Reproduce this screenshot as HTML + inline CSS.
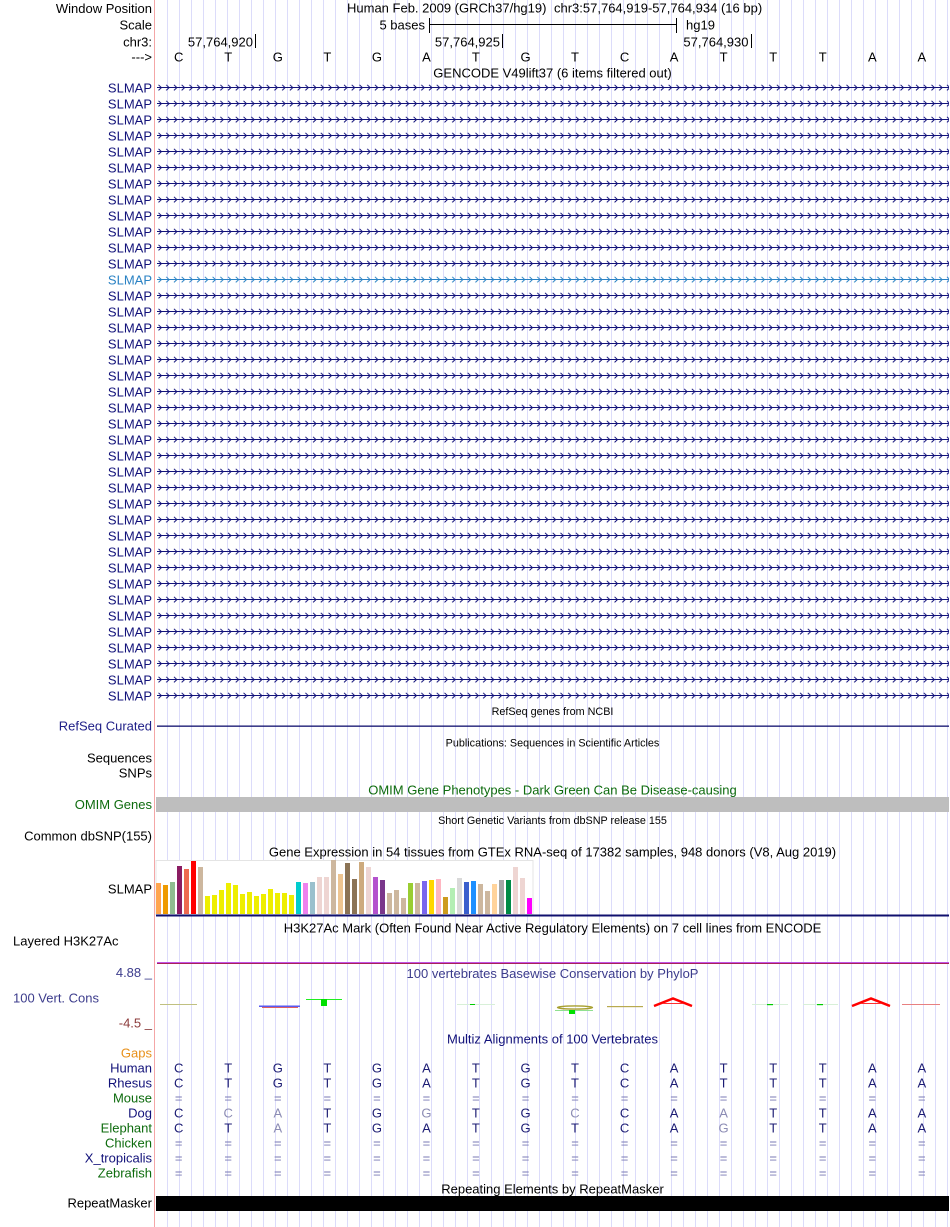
<!DOCTYPE html>
<html>
<head>
<meta charset="utf-8">
<style>
  html,body{margin:0;padding:0;background:#fff;}
  svg{display:block;}
  text{font-family:"Liberation Sans",Arial,sans-serif;font-size:13px;}
  .s{font-size:10.8px;}
  .r{text-anchor:end;}
  .m{text-anchor:middle;}
  .nv{fill:#12127a;}
  .gr{fill:#0d6b0d;}
  .cv{fill:#3c3c8c;}
  .mz{fill:#1c1c74;}
  .mm{fill:#8c8cb4;}
  .eq{fill:#7a7ab4;}
</style>
</head>
<body>
<svg width="950" height="1227" viewBox="0 0 950 1227" xmlns="http://www.w3.org/2000/svg">
  <defs>
    <pattern id="chN" x="158" y="0" width="7.73" height="16" patternUnits="userSpaceOnUse">
      <path d="M0.5,4.8 L3.4,7.6 L0.5,10.4" fill="none" stroke="#12127a" stroke-width="1"/>
    </pattern>
    <pattern id="chB" x="158" y="0" width="7.73" height="16" patternUnits="userSpaceOnUse">
      <path d="M0.5,4.8 L3.4,7.6 L0.5,10.4" fill="none" stroke="#2a82c4" stroke-width="1"/>
    </pattern>
    <pattern id="grid" x="167" y="0" width="12" height="10" patternUnits="userSpaceOnUse">
      <rect x="0" y="0" width="1" height="10" fill="#dcdcfa"/>
    </pattern>
  </defs>

  <rect x="0" y="0" width="950" height="1227" fill="#fff"/>
  <!-- guidelines -->
  <rect x="167" y="0" width="783" height="1227" fill="url(#grid)"/>
  <!-- pink divider -->
  <rect x="154" y="0" width="1" height="1227" fill="#f4a6a6"/>

  <!-- Header -->
  <text x="152" y="13" class="r">Window Position</text>
  <text x="347" y="12.6">Human Feb. 2009 (GRCh37/hg19)</text>
  <text x="554" y="12.6">chr3:57,764,919-57,764,934 (16 bp)</text>

  <text x="152" y="29.7" class="r">Scale</text>
  <text x="425" y="29.7" class="r">5 bases</text>
  <rect x="429" y="18" width="1" height="15" fill="#000"/>
  <rect x="429" y="24" width="248" height="1" fill="#000"/>
  <rect x="676" y="18" width="1" height="15" fill="#000"/>
  <text x="686" y="29.7">hg19</text>

  <text x="152" y="46.6" class="r">chr3:</text>
  <text x="253" y="46.6" class="r">57,764,920</text>
  <rect x="255" y="34" width="1" height="14" fill="#000"/>
  <text x="500" y="46.6" class="r">57,764,925</text>
  <rect x="502" y="34" width="1" height="14" fill="#000"/>
  <text x="748.5" y="46.6" class="r">57,764,930</text>
  <rect x="751" y="34" width="1" height="14" fill="#000"/>

  <text x="152" y="61.6" class="r">---&gt;</text>
  <g class="m">
    <text x="178.7" y="61.6" class="m">C</text>
    <text x="228.2" y="61.6" class="m">T</text>
    <text x="277.8" y="61.6" class="m">G</text>
    <text x="327.3" y="61.6" class="m">T</text>
    <text x="376.9" y="61.6" class="m">G</text>
    <text x="426.4" y="61.6" class="m">A</text>
    <text x="475.9" y="61.6" class="m">T</text>
    <text x="525.5" y="61.6" class="m">G</text>
    <text x="575.0" y="61.6" class="m">T</text>
    <text x="624.6" y="61.6" class="m">C</text>
    <text x="674.1" y="61.6" class="m">A</text>
    <text x="723.6" y="61.6" class="m">T</text>
    <text x="773.2" y="61.6" class="m">T</text>
    <text x="822.7" y="61.6" class="m">T</text>
    <text x="872.3" y="61.6" class="m">A</text>
    <text x="921.8" y="61.6" class="m">A</text>
  </g>

  <text x="552.5" y="77.6" class="m">GENCODE V49lift37 (6 items filtered out)</text>

  <!-- SLMAP arrow lines -->
  <rect x="157" y="79.5" width="792" height="192" fill="url(#chN)"/>
  <rect x="157" y="271.5" width="792" height="16" fill="url(#chB)"/>
  <rect x="157" y="287.5" width="792" height="416" fill="url(#chN)"/>
  <g fill="#12127a">
    <rect x="157" y="87" width="792" height="1"/>
    <rect x="157" y="103" width="792" height="1"/>
    <rect x="157" y="119" width="792" height="1"/>
    <rect x="157" y="135" width="792" height="1"/>
    <rect x="157" y="151" width="792" height="1"/>
    <rect x="157" y="167" width="792" height="1"/>
    <rect x="157" y="183" width="792" height="1"/>
    <rect x="157" y="199" width="792" height="1"/>
    <rect x="157" y="215" width="792" height="1"/>
    <rect x="157" y="231" width="792" height="1"/>
    <rect x="157" y="247" width="792" height="1"/>
    <rect x="157" y="263" width="792" height="1"/>
    <rect x="157" y="279" width="792" height="1" fill="#2a82c4"/>
    <rect x="157" y="295" width="792" height="1"/>
    <rect x="157" y="311" width="792" height="1"/>
    <rect x="157" y="327" width="792" height="1"/>
    <rect x="157" y="343" width="792" height="1"/>
    <rect x="157" y="359" width="792" height="1"/>
    <rect x="157" y="375" width="792" height="1"/>
    <rect x="157" y="391" width="792" height="1"/>
    <rect x="157" y="407" width="792" height="1"/>
    <rect x="157" y="423" width="792" height="1"/>
    <rect x="157" y="439" width="792" height="1"/>
    <rect x="157" y="455" width="792" height="1"/>
    <rect x="157" y="471" width="792" height="1"/>
    <rect x="157" y="487" width="792" height="1"/>
    <rect x="157" y="503" width="792" height="1"/>
    <rect x="157" y="519" width="792" height="1"/>
    <rect x="157" y="535" width="792" height="1"/>
    <rect x="157" y="551" width="792" height="1"/>
    <rect x="157" y="567" width="792" height="1"/>
    <rect x="157" y="583" width="792" height="1"/>
    <rect x="157" y="599" width="792" height="1"/>
    <rect x="157" y="615" width="792" height="1"/>
    <rect x="157" y="631" width="792" height="1"/>
    <rect x="157" y="647" width="792" height="1"/>
    <rect x="157" y="663" width="792" height="1"/>
    <rect x="157" y="679" width="792" height="1"/>
    <rect x="157" y="695" width="792" height="1"/>
  </g>
  <g class="nv">
    <text x="152" y="92.3" class="r">SLMAP</text>
    <text x="152" y="108.3" class="r">SLMAP</text>
    <text x="152" y="124.3" class="r">SLMAP</text>
    <text x="152" y="140.3" class="r">SLMAP</text>
    <text x="152" y="156.3" class="r">SLMAP</text>
    <text x="152" y="172.3" class="r">SLMAP</text>
    <text x="152" y="188.3" class="r">SLMAP</text>
    <text x="152" y="204.3" class="r">SLMAP</text>
    <text x="152" y="220.3" class="r">SLMAP</text>
    <text x="152" y="236.3" class="r">SLMAP</text>
    <text x="152" y="252.3" class="r">SLMAP</text>
    <text x="152" y="268.3" class="r">SLMAP</text>
    <text x="152" y="284.3" class="r" style="fill:#2a82c4">SLMAP</text>
    <text x="152" y="300.3" class="r">SLMAP</text>
    <text x="152" y="316.3" class="r">SLMAP</text>
    <text x="152" y="332.3" class="r">SLMAP</text>
    <text x="152" y="348.3" class="r">SLMAP</text>
    <text x="152" y="364.3" class="r">SLMAP</text>
    <text x="152" y="380.3" class="r">SLMAP</text>
    <text x="152" y="396.3" class="r">SLMAP</text>
    <text x="152" y="412.3" class="r">SLMAP</text>
    <text x="152" y="428.3" class="r">SLMAP</text>
    <text x="152" y="444.3" class="r">SLMAP</text>
    <text x="152" y="460.3" class="r">SLMAP</text>
    <text x="152" y="476.3" class="r">SLMAP</text>
    <text x="152" y="492.3" class="r">SLMAP</text>
    <text x="152" y="508.3" class="r">SLMAP</text>
    <text x="152" y="524.3" class="r">SLMAP</text>
    <text x="152" y="540.3" class="r">SLMAP</text>
    <text x="152" y="556.3" class="r">SLMAP</text>
    <text x="152" y="572.3" class="r">SLMAP</text>
    <text x="152" y="588.3" class="r">SLMAP</text>
    <text x="152" y="604.3" class="r">SLMAP</text>
    <text x="152" y="620.3" class="r">SLMAP</text>
    <text x="152" y="636.3" class="r">SLMAP</text>
    <text x="152" y="652.3" class="r">SLMAP</text>
    <text x="152" y="668.3" class="r">SLMAP</text>
    <text x="152" y="684.3" class="r">SLMAP</text>
    <text x="152" y="700.3" class="r">SLMAP</text>
  </g>

  <!-- RefSeq -->
  <text x="552.5" y="714.9" class="m s">RefSeq genes from NCBI</text>
  <text x="152" y="730.6" class="r" style="fill:#202088">RefSeq Curated</text>
  <rect x="157" y="725.5" width="792" height="1.3" fill="#10106e"/>

  <!-- Publications -->
  <text x="552.5" y="746.4" class="m s">Publications: Sequences in Scientific Articles</text>
  <text x="152" y="762.3" class="r">Sequences</text>
  <text x="152" y="777.6" class="r">SNPs</text>

  <!-- OMIM -->
  <text x="552.5" y="794.6" class="m gr">OMIM Gene Phenotypes - Dark Green Can Be Disease-causing</text>
  <text x="152" y="809.1" class="r gr">OMIM Genes</text>
  <rect x="156" y="797" width="793" height="15" fill="#bebebe"/>

  <!-- dbSNP -->
  <text x="552.5" y="823.9" class="m s">Short Genetic Variants from dbSNP release 155</text>
  <text x="152" y="840.6" class="r">Common dbSNP(155)</text>

  <!-- GTEx -->
  <text x="552.5" y="856.6" class="m">Gene Expression in 54 tissues from GTEx RNA-seq of 17382 samples, 948 donors (V8, Aug 2019)</text>
  <rect x="156" y="860.5" width="377" height="54" fill="#fff" stroke="#e4e4e4" stroke-width="1"/>
  <text x="152" y="893.6" class="r">SLMAP</text>
  <g>
    <rect x="156" y="883" width="5" height="31" fill="#FFA54F"/>
    <rect x="163" y="885" width="5" height="29" fill="#EE9A00"/>
    <rect x="170" y="882" width="5" height="32" fill="#8FBC8F"/>
    <rect x="177" y="866" width="5" height="48" fill="#8B1C62"/>
    <rect x="184" y="869" width="5" height="45" fill="#EE6A50"/>
    <rect x="191" y="861" width="5" height="53" fill="#FF0000"/>
    <rect x="198" y="867" width="5" height="47" fill="#CDB79E"/>
    <rect x="205" y="896" width="5" height="18" fill="#EEEE00"/>
    <rect x="212" y="895" width="5" height="19" fill="#EEEE00"/>
    <rect x="219" y="890" width="5" height="24" fill="#EEEE00"/>
    <rect x="226" y="883" width="5" height="31" fill="#EEEE00"/>
    <rect x="233" y="885" width="5" height="29" fill="#EEEE00"/>
    <rect x="240" y="894" width="5" height="20" fill="#EEEE00"/>
    <rect x="247" y="892" width="5" height="22" fill="#EEEE00"/>
    <rect x="254" y="896" width="5" height="18" fill="#EEEE00"/>
    <rect x="261" y="894" width="5" height="20" fill="#EEEE00"/>
    <rect x="268" y="889" width="5" height="25" fill="#EEEE00"/>
    <rect x="275" y="893" width="5" height="21" fill="#EEEE00"/>
    <rect x="282" y="893" width="5" height="21" fill="#EEEE00"/>
    <rect x="289" y="895" width="5" height="19" fill="#EEEE00"/>
    <rect x="296" y="882" width="5" height="32" fill="#00CDCD"/>
    <rect x="303" y="883" width="5" height="31" fill="#EE82EE"/>
    <rect x="310" y="882" width="5" height="32" fill="#9AC0CD"/>
    <rect x="317" y="877" width="5" height="37" fill="#EED5D2"/>
    <rect x="324" y="877" width="5" height="37" fill="#EED5D2"/>
    <rect x="331" y="860" width="5" height="54" fill="#CDB79E"/>
    <rect x="338" y="874" width="5" height="40" fill="#EEC591"/>
    <rect x="345" y="863" width="5" height="51" fill="#8B7355"/>
    <rect x="352" y="879" width="5" height="35" fill="#8B7355"/>
    <rect x="359" y="862" width="5" height="52" fill="#CDAA7D"/>
    <rect x="366" y="867" width="5" height="47" fill="#EED5D2"/>
    <rect x="373" y="877" width="5" height="37" fill="#B452CD"/>
    <rect x="380" y="880" width="5" height="34" fill="#7A378B"/>
    <rect x="387" y="893" width="5" height="21" fill="#CDB79E"/>
    <rect x="394" y="890" width="5" height="24" fill="#CDB79E"/>
    <rect x="401" y="898" width="5" height="16" fill="#CDB79E"/>
    <rect x="408" y="883" width="5" height="31" fill="#9ACD32"/>
    <rect x="415" y="883" width="5" height="31" fill="#CDB79E"/>
    <rect x="422" y="881" width="5" height="33" fill="#7A67EE"/>
    <rect x="429" y="880" width="5" height="34" fill="#FFD700"/>
    <rect x="436" y="879" width="5" height="35" fill="#FFB6C1"/>
    <rect x="443" y="897" width="5" height="17" fill="#CD9B1D"/>
    <rect x="450" y="888" width="5" height="26" fill="#B4EEB4"/>
    <rect x="457" y="878" width="5" height="36" fill="#D9D9D9"/>
    <rect x="464" y="882" width="5" height="32" fill="#3A5FCD"/>
    <rect x="471" y="881" width="5" height="33" fill="#1E90FF"/>
    <rect x="478" y="884" width="5" height="30" fill="#CDB79E"/>
    <rect x="485" y="891" width="5" height="23" fill="#CDB79E"/>
    <rect x="492" y="884" width="5" height="30" fill="#FFD39B"/>
    <rect x="499" y="880" width="5" height="34" fill="#A6A6A6"/>
    <rect x="506" y="880" width="5" height="34" fill="#008B45"/>
    <rect x="513" y="867" width="5" height="47" fill="#EED5D2"/>
    <rect x="520" y="878" width="5" height="36" fill="#EED5D2"/>
    <rect x="527" y="898" width="5" height="16" fill="#FF00FF"/>
  </g>
  <rect x="156" y="914.5" width="793" height="2" fill="#10106e"/>

  <!-- H3K27Ac -->
  <text x="552.5" y="932.3" class="m">H3K27Ac Mark (Often Found Near Active Regulatory Elements) on 7 cell lines from ENCODE</text>
  <text x="13" y="945.6">Layered H3K27Ac</text>
  <rect x="157" y="962" width="792" height="1" fill="#c055e6"/>
  <rect x="157" y="963" width="792" height="1" fill="#a8205a"/>

  <!-- Conservation -->
  <text x="152" y="977" class="r cv">4.88 _</text>
  <text x="552.5" y="978.1" class="m cv">100 vertebrates Basewise Conservation by PhyloP</text>
  <text x="13" y="1002.3" class="cv">100 Vert. Cons</text>
  <text x="152" y="1027.6" class="r" style="fill:#8b3a3a">-4.5 _</text>

  <g>
    <rect x="160" y="1004" width="37" height="1" fill="#c0c080"/>
    <rect x="259" y="1005.5" width="41" height="1.5" fill="#5a5af0"/>
    <rect x="262" y="1007" width="36" height="1" fill="#e06060"/>
    <rect x="306" y="999" width="36" height="1" fill="#20ee20"/>
    <rect x="321" y="999" width="6" height="7" fill="#00e000"/>
    <rect x="457" y="1004" width="38" height="1" fill="#d8f0d8"/>
    <rect x="470" y="1004" width="5" height="1" fill="#00cc00"/>
    <ellipse cx="575" cy="1007.5" rx="17.5" ry="1.6" fill="none" stroke="#a8a030" stroke-width="1.4"/>
    <rect x="555" y="1010" width="38" height="1" fill="#90e090"/>
    <rect x="569" y="1010" width="6" height="4" fill="#00e000"/>
    <rect x="607" y="1006" width="36" height="1.2" fill="#b8aa50"/>
    <polyline points="654,1006 673,998.5 692,1006" fill="none" stroke="#ff0000" stroke-width="2.5"/>
    <rect x="663" y="1003" width="20" height="1" fill="#ff3030"/>
    <rect x="752" y="1004" width="36" height="1" fill="#d8f0d8"/>
    <rect x="767" y="1004" width="6" height="1.2" fill="#00cc00"/>
    <rect x="803" y="1004" width="35" height="1" fill="#d8f0d8"/>
    <rect x="817" y="1004" width="6" height="1.2" fill="#00cc00"/>
    <polyline points="852,1006 871,998.5 890,1006" fill="none" stroke="#ff0000" stroke-width="2.5"/>
    <rect x="861" y="1003" width="20" height="1" fill="#ff3030"/>
    <rect x="902" y="1004" width="38" height="1" fill="#e88080"/>
  </g>

  <!-- Multiz -->
  <text x="552.5" y="1043.6" class="m nv">Multiz Alignments of 100 Vertebrates</text>
  <text x="152" y="1057.6" class="r" style="fill:#e8901a">Gaps</text>
  <text x="152" y="1072.6" class="r nv">Human</text>
  <text x="152" y="1087.6" class="r nv">Rhesus</text>
  <text x="152" y="1102.6" class="r gr">Mouse</text>
  <text x="152" y="1117.6" class="r nv">Dog</text>
  <text x="152" y="1132.6" class="r gr">Elephant</text>
  <text x="152" y="1147.6" class="r gr">Chicken</text>
  <text x="152" y="1162.6" class="r nv">X_tropicalis</text>
  <text x="152" y="1177.6" class="r gr">Zebrafish</text>

  <!-- Human -->
  <g class="mz">
    <text x="178.7" y="1072.6" class="m">C</text><text x="228.2" y="1072.6" class="m">T</text><text x="277.8" y="1072.6" class="m">G</text><text x="327.3" y="1072.6" class="m">T</text><text x="376.9" y="1072.6" class="m">G</text><text x="426.4" y="1072.6" class="m">A</text><text x="475.9" y="1072.6" class="m">T</text><text x="525.5" y="1072.6" class="m">G</text><text x="575.0" y="1072.6" class="m">T</text><text x="624.6" y="1072.6" class="m">C</text><text x="674.1" y="1072.6" class="m">A</text><text x="723.6" y="1072.6" class="m">T</text><text x="773.2" y="1072.6" class="m">T</text><text x="822.7" y="1072.6" class="m">T</text><text x="872.3" y="1072.6" class="m">A</text><text x="921.8" y="1072.6" class="m">A</text>
  </g>
  <!-- Rhesus -->
  <g class="mz">
    <text x="178.7" y="1087.6" class="m">C</text><text x="228.2" y="1087.6" class="m">T</text><text x="277.8" y="1087.6" class="m">G</text><text x="327.3" y="1087.6" class="m">T</text><text x="376.9" y="1087.6" class="m">G</text><text x="426.4" y="1087.6" class="m">A</text><text x="475.9" y="1087.6" class="m">T</text><text x="525.5" y="1087.6" class="m">G</text><text x="575.0" y="1087.6" class="m">T</text><text x="624.6" y="1087.6" class="m">C</text><text x="674.1" y="1087.6" class="m">A</text><text x="723.6" y="1087.6" class="m">T</text><text x="773.2" y="1087.6" class="m">T</text><text x="822.7" y="1087.6" class="m">T</text><text x="872.3" y="1087.6" class="m">A</text><text x="921.8" y="1087.6" class="m">A</text>
  </g>
  <!-- Mouse = -->
  <g class="eq">
    <text x="178.7" y="1102.6" class="m">=</text><text x="228.2" y="1102.6" class="m">=</text><text x="277.8" y="1102.6" class="m">=</text><text x="327.3" y="1102.6" class="m">=</text><text x="376.9" y="1102.6" class="m">=</text><text x="426.4" y="1102.6" class="m">=</text><text x="475.9" y="1102.6" class="m">=</text><text x="525.5" y="1102.6" class="m">=</text><text x="575.0" y="1102.6" class="m">=</text><text x="624.6" y="1102.6" class="m">=</text><text x="674.1" y="1102.6" class="m">=</text><text x="723.6" y="1102.6" class="m">=</text><text x="773.2" y="1102.6" class="m">=</text><text x="822.7" y="1102.6" class="m">=</text><text x="872.3" y="1102.6" class="m">=</text><text x="921.8" y="1102.6" class="m">=</text>
  </g>
  <!-- Dog -->
  <g class="mz">
    <text x="178.7" y="1117.6" class="m">C</text><text x="228.2" y="1117.6" class="m mm">C</text><text x="277.8" y="1117.6" class="m mm">A</text><text x="327.3" y="1117.6" class="m">T</text><text x="376.9" y="1117.6" class="m">G</text><text x="426.4" y="1117.6" class="m mm">G</text><text x="475.9" y="1117.6" class="m">T</text><text x="525.5" y="1117.6" class="m">G</text><text x="575.0" y="1117.6" class="m mm">C</text><text x="624.6" y="1117.6" class="m">C</text><text x="674.1" y="1117.6" class="m">A</text><text x="723.6" y="1117.6" class="m mm">A</text><text x="773.2" y="1117.6" class="m">T</text><text x="822.7" y="1117.6" class="m">T</text><text x="872.3" y="1117.6" class="m">A</text><text x="921.8" y="1117.6" class="m">A</text>
  </g>
  <!-- Elephant -->
  <g class="mz">
    <text x="178.7" y="1132.6" class="m">C</text><text x="228.2" y="1132.6" class="m">T</text><text x="277.8" y="1132.6" class="m mm">A</text><text x="327.3" y="1132.6" class="m">T</text><text x="376.9" y="1132.6" class="m">G</text><text x="426.4" y="1132.6" class="m">A</text><text x="475.9" y="1132.6" class="m">T</text><text x="525.5" y="1132.6" class="m">G</text><text x="575.0" y="1132.6" class="m">T</text><text x="624.6" y="1132.6" class="m">C</text><text x="674.1" y="1132.6" class="m">A</text><text x="723.6" y="1132.6" class="m mm">G</text><text x="773.2" y="1132.6" class="m">T</text><text x="822.7" y="1132.6" class="m">T</text><text x="872.3" y="1132.6" class="m">A</text><text x="921.8" y="1132.6" class="m">A</text>
  </g>
  <!-- Chicken = -->
  <g class="eq">
    <text x="178.7" y="1147.6" class="m">=</text><text x="228.2" y="1147.6" class="m">=</text><text x="277.8" y="1147.6" class="m">=</text><text x="327.3" y="1147.6" class="m">=</text><text x="376.9" y="1147.6" class="m">=</text><text x="426.4" y="1147.6" class="m">=</text><text x="475.9" y="1147.6" class="m">=</text><text x="525.5" y="1147.6" class="m">=</text><text x="575.0" y="1147.6" class="m">=</text><text x="624.6" y="1147.6" class="m">=</text><text x="674.1" y="1147.6" class="m">=</text><text x="723.6" y="1147.6" class="m">=</text><text x="773.2" y="1147.6" class="m">=</text><text x="822.7" y="1147.6" class="m">=</text><text x="872.3" y="1147.6" class="m">=</text><text x="921.8" y="1147.6" class="m">=</text>
  </g>
  <!-- X_tropicalis = -->
  <g class="eq">
    <text x="178.7" y="1162.6" class="m">=</text><text x="228.2" y="1162.6" class="m">=</text><text x="277.8" y="1162.6" class="m">=</text><text x="327.3" y="1162.6" class="m">=</text><text x="376.9" y="1162.6" class="m">=</text><text x="426.4" y="1162.6" class="m">=</text><text x="475.9" y="1162.6" class="m">=</text><text x="525.5" y="1162.6" class="m">=</text><text x="575.0" y="1162.6" class="m">=</text><text x="624.6" y="1162.6" class="m">=</text><text x="674.1" y="1162.6" class="m">=</text><text x="723.6" y="1162.6" class="m">=</text><text x="773.2" y="1162.6" class="m">=</text><text x="822.7" y="1162.6" class="m">=</text><text x="872.3" y="1162.6" class="m">=</text><text x="921.8" y="1162.6" class="m">=</text>
  </g>
  <!-- Zebrafish = -->
  <g class="eq">
    <text x="178.7" y="1177.6" class="m">=</text><text x="228.2" y="1177.6" class="m">=</text><text x="277.8" y="1177.6" class="m">=</text><text x="327.3" y="1177.6" class="m">=</text><text x="376.9" y="1177.6" class="m">=</text><text x="426.4" y="1177.6" class="m">=</text><text x="475.9" y="1177.6" class="m">=</text><text x="525.5" y="1177.6" class="m">=</text><text x="575.0" y="1177.6" class="m">=</text><text x="624.6" y="1177.6" class="m">=</text><text x="674.1" y="1177.6" class="m">=</text><text x="723.6" y="1177.6" class="m">=</text><text x="773.2" y="1177.6" class="m">=</text><text x="822.7" y="1177.6" class="m">=</text><text x="872.3" y="1177.6" class="m">=</text><text x="921.8" y="1177.6" class="m">=</text>
  </g>

  <!-- RepeatMasker -->
  <text x="552.5" y="1193.6" class="m">Repeating Elements by RepeatMasker</text>
  <text x="152" y="1207.6" class="r">RepeatMasker</text>
  <rect x="156" y="1196" width="793" height="15" fill="#000"/>
</svg>
</body>
</html>
